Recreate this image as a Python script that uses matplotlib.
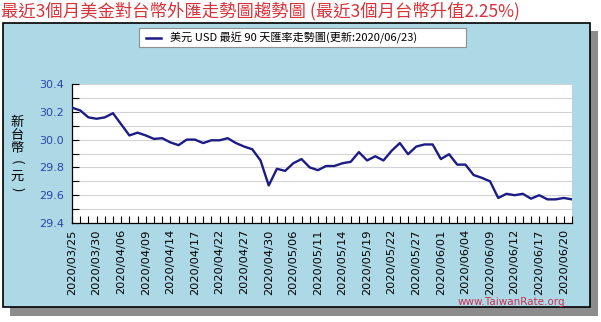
import matplotlib
matplotlib.use('Agg')
import matplotlib.pyplot as plt
from matplotlib.patches import Rectangle
from matplotlib.ticker import MultipleLocator

plt.rcParams['font.family'] = ['DejaVu Sans']
CJK = ['Noto Sans CJK TC', 'DejaVu Sans']

# trading days (last 90 days)
dates = ['2020/03/25', '2020/03/26', '2020/03/27', '2020/03/30', '2020/03/31',
         '2020/04/01', '2020/04/06', '2020/04/07', '2020/04/08', '2020/04/09',
         '2020/04/10', '2020/04/13', '2020/04/14', '2020/04/15', '2020/04/16',
         '2020/04/17', '2020/04/20', '2020/04/21', '2020/04/22', '2020/04/23',
         '2020/04/24', '2020/04/27', '2020/04/28', '2020/04/29', '2020/04/30',
         '2020/05/04', '2020/05/05', '2020/05/06', '2020/05/07', '2020/05/08',
         '2020/05/11', '2020/05/12', '2020/05/13', '2020/05/14', '2020/05/15',
         '2020/05/18', '2020/05/19', '2020/05/20', '2020/05/21', '2020/05/22',
         '2020/05/25', '2020/05/26', '2020/05/27', '2020/05/28', '2020/05/29',
         '2020/06/01', '2020/06/02', '2020/06/03', '2020/06/04', '2020/06/05',
         '2020/06/08', '2020/06/09', '2020/06/10', '2020/06/11', '2020/06/12',
         '2020/06/15', '2020/06/16', '2020/06/17', '2020/06/18', '2020/06/19',
         '2020/06/20', '2020/06/22']

rate = [30.23, 30.21, 30.16, 30.15, 30.16, 30.19, 30.11, 30.03, 30.05, 30.03,
        30.005, 30.01, 29.98, 29.96, 30.00, 30.00, 29.975, 29.995, 29.995, 30.01,
        29.975, 29.95, 29.93, 29.85, 29.67, 29.79, 29.775, 29.83, 29.86, 29.80,
        29.78, 29.81, 29.81, 29.83, 29.84, 29.91, 29.85, 29.88, 29.85, 29.92,
        29.975, 29.895, 29.95, 29.965, 29.965, 29.86, 29.895, 29.82, 29.82, 29.745,
        29.725, 29.70, 29.58, 29.61, 29.60, 29.61, 29.575, 29.60, 29.57, 29.57,
        29.58, 29.57]

label_step = 3

title = '最近3個月美金對台幣外匯走勢圖趨勢圖 (最近3個月台幣升值2.25%)'
legend_text = '美元 USD 最近 90 天匯率走勢圖(更新:2020/06/23)'
ylabel_chars = ['新', '台', '幣', '(', '元', ')']

W, H = 601, 322


def fx(px):
    return px / W


def fy(py):
    return 1 - py / H


fig = plt.figure(figsize=(W / 100, H / 100), dpi=100)
fig.patch.set_facecolor('white')

# panel with drop shadow
fig.patches.append(Rectangle((fx(10), fy(316)), fx(588), 285 / H,
                             transform=fig.transFigure, facecolor='#8c8c8c',
                             edgecolor='none', zorder=0))
fig.patches.append(Rectangle((fx(3), fy(307)), fx(587), 284 / H,
                             transform=fig.transFigure, facecolor='#add8e6',
                             edgecolor='black', linewidth=1.2, zorder=1))

fig.text(fx(1), fy(11), title, family=CJK, fontsize=12.5, color='#d8323a',
         ha='left', va='center')

# legend box
fig.patches.append(Rectangle((fx(139), fy(47)), fx(327), 19 / H,
                             transform=fig.transFigure, facecolor='white',
                             edgecolor='#909090', linewidth=0.8, zorder=2))
fig.lines.append(plt.Line2D([fx(146), fx(161)], [fy(37.5), fy(37.5)],
                            transform=fig.transFigure, color='#1c1c84',
                            linewidth=1.8, zorder=3))
fig.text(fx(170), fy(37.5), legend_text, family=CJK, fontsize=8, color='black',
         ha='left', va='center', zorder=3)

# vertical y label, brackets turned sideways
for i, ch in enumerate(ylabel_chars):
    rot = -90 if ch in '()' else 0
    fig.text(fx(17), fy(122 + i * 13.5), ch, family=CJK, fontsize=9.5,
             color='black', ha='center', va='center', rotation=rot, zorder=3)

fig.text(fx(565), fy(302), 'www.TaiwanRate.org', fontsize=7.5, color='#cc3350',
         ha='right', va='center', zorder=6)

ax = fig.add_axes([fx(72), fy(223), fx(500), 139 / H])
ax.set_zorder(5)
ax.set_facecolor('white')
x = list(range(len(rate)))
ax.plot(x, rate, color='#1c1c84', linewidth=1.7, zorder=3)

ax.set_xlim(0, len(rate) - 1)
ax.set_ylim(29.4, 30.4)
ax.set_xticks(x[::label_step])
ax.set_xticklabels(dates[::label_step], rotation=90, fontsize=8.2)
ax.set_xticks(x, minor=True)
ax.yaxis.set_minor_locator(MultipleLocator(0.1))
ax.set_yticks([29.4, 29.6, 29.8, 30.0, 30.2, 30.4])
ax.set_yticklabels(['29.4', '29.6', '29.8', '30.0', '30.2', '30.4'])
ax.tick_params(axis='both', which='both', direction='in', length=5, width=0.8)
ax.tick_params(axis='x', which='major', pad=4.5)
ax.tick_params(axis='y', which='major', labelsize=8, labelcolor='#2a46a8', pad=6)
ax.grid(axis='y', which='both', color='#d4d4d4', linewidth=0.8)
ax.set_axisbelow(True)
for side in ['top', 'right']:
    ax.spines[side].set_visible(False)
for side in ['left', 'bottom']:
    ax.spines[side].set_linewidth(0.9)

fig.savefig('out.png', dpi=100)
